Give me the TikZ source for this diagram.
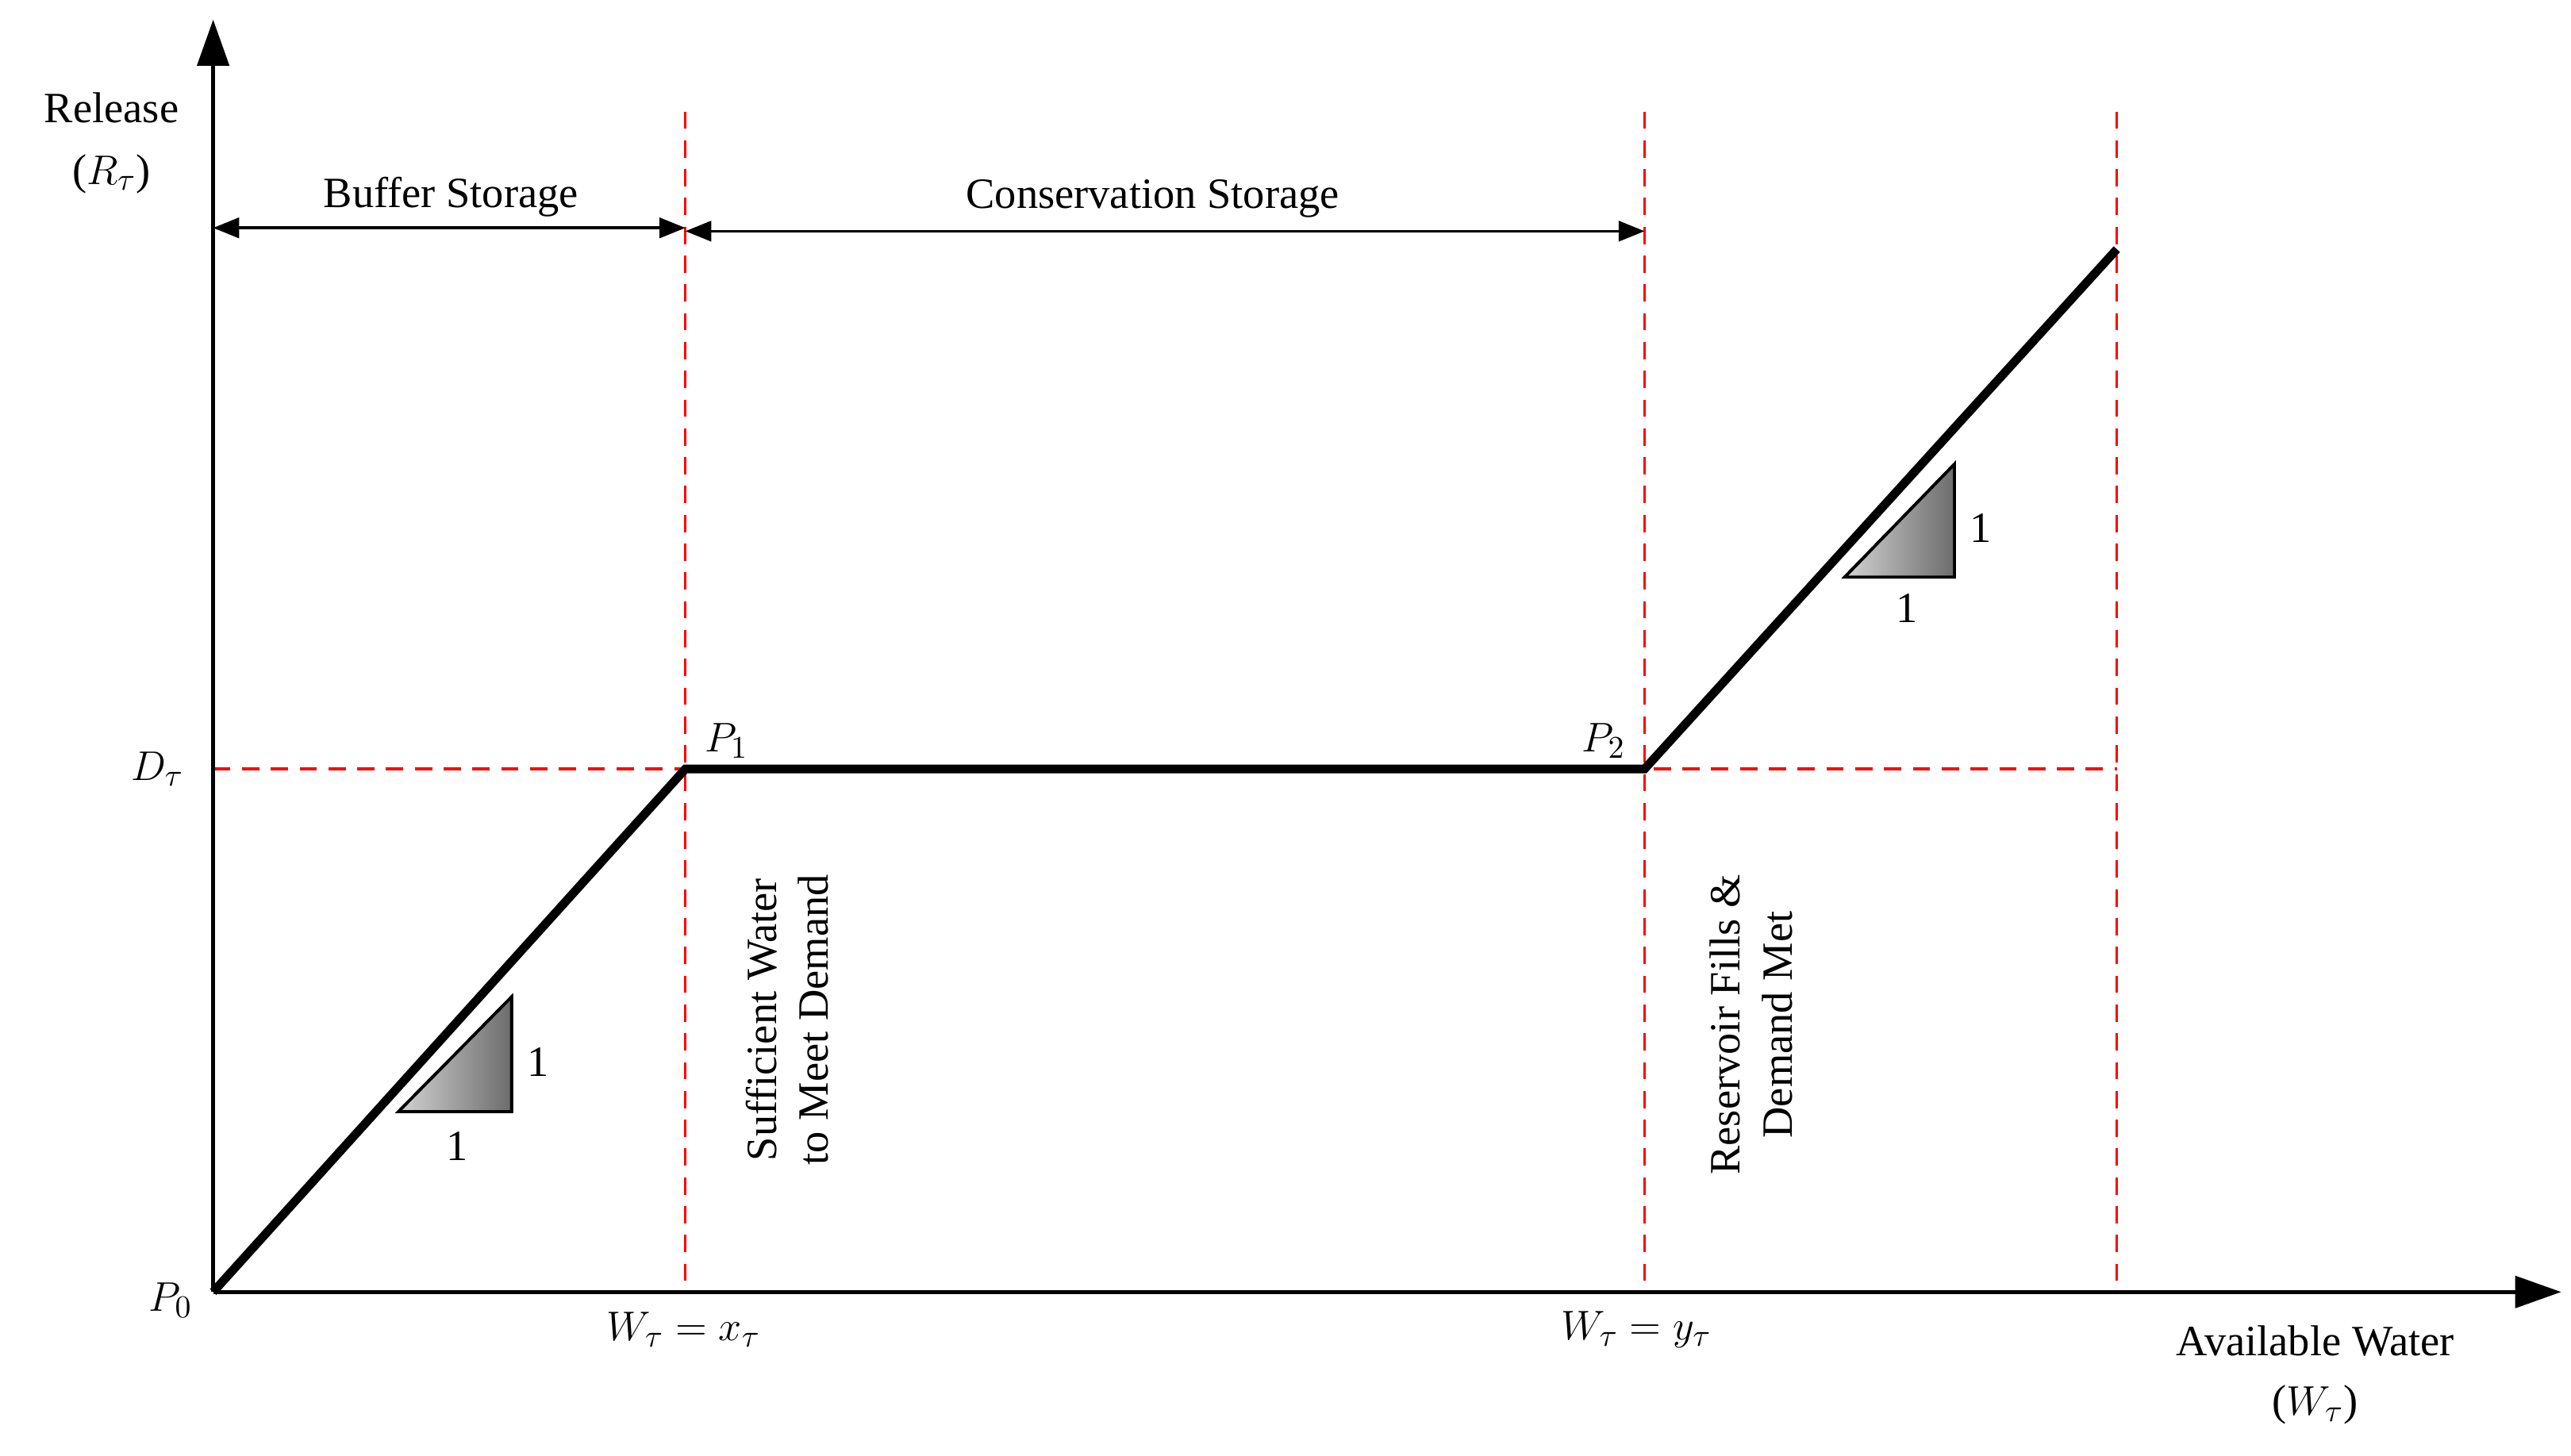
\documentclass[tikz,border=0pt]{standalone}
\usepackage{fontspec}
\setmainfont{Liberation Serif}
\usetikzlibrary{arrows.meta}
\begin{document}
\begin{tikzpicture}[x=0.02cm,y=-0.02cm,
  lbl/.style={font=\fontsize{15}{18}\selectfont, inner sep=1pt},
  ax/.style={line width=1.3pt,-{Triangle[length=16pt,width=11pt]}},
  dsh/.style={red,dashed,line width=0.9pt,dash pattern=on 6pt off 4pt},
  dim/.style={line width=1pt,{Triangle[length=9pt,width=7pt]}-{Triangle[length=9pt,width=7pt]}},
  tri/.style={draw=black,line width=1pt,left color=gray!35,right color=gray!85!black}]
\useasboundingbox (0,0) rectangle (1568,888);
\coordinate (O) at (130,788);
\coordinate (Ytop) at (130,12);
\coordinate (Xend) at (1562,788);
\coordinate (P1) at (418,469);
\coordinate (P2) at (1003,469);
\coordinate (Pend) at (1291,152);
\draw[dsh] (418,68) -- (418,788);
\draw[dsh] (1003,68) -- (1003,788);
\draw[dsh] (1291,68) -- (1291,788);
\draw[dsh] (130,469) -- (1291,469);
\draw[ax] (O) -- (Ytop);
\draw[ax] (O) -- (Xend);
\draw[line width=3pt,line join=miter] (O) -- (P1) -- (P2) -- (Pend);
\draw[dim] (130,139) -- (418,139);
\draw[dim] (418,141) -- (1003,141);
\node[lbl] (bs) at (275,120) {Buffer Storage};
\node[lbl] (cs) at (703,121) {Conservation Storage};
\fill[tri] (243,678) -- (312,678) -- (312,608) -- cycle;
\draw[line width=1pt] (243,678) -- (312,678) -- (312,608) -- cycle;
\fill[tri] (1125,352) -- (1192,352) -- (1192,283) -- cycle;
\draw[line width=1pt] (1125,352) -- (1192,352) -- (1192,283) -- cycle;
\node[lbl] (a1) at (328,648) {1};
\node[lbl] (a2) at (279,699) {1};
\node[lbl] (b1) at (1208,322) {1};
\node[lbl] (b2) at (1163,371) {1};
\node[lbl] (rel) at (68,66) {Release};
\node[lbl] (relR) at (68,106) {($R_{\tau}$)};
\node[lbl] (D) at (96,469) {$D_{\tau}$};
\node[lbl] (p0) at (104,793) {$P_0$};
\node[lbl] (p1) at (443,452) {$P_1$};
\node[lbl] (p2) at (978,452) {$P_2$};
\node[lbl] (wx) at (417,811) {$W_{\tau}=x_{\tau}$};
\node[lbl] (wy) at (998,811) {$W_{\tau}=y_{\tau}$};
\node[lbl] (aw) at (1412,818) {Available Water};
\node[lbl] (awW) at (1412,857) {($W_{\tau}$)};
\node[lbl,rotate=90,align=center] (suf) at (480,622) {Sufficient Water\\to Meet Demand};
\node[lbl,rotate=90,align=center] (res) at (1068,625) {Reservoir Fills \&\\Demand Met};
\end{tikzpicture}
\end{document}
